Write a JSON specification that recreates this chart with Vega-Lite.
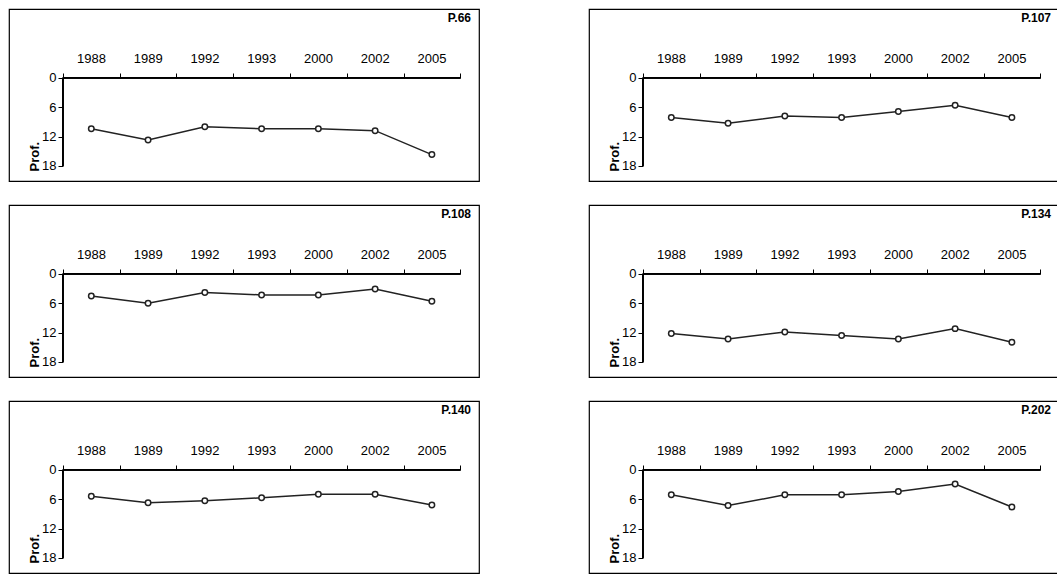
{
  "$schema": "https://vega.github.io/schema/vega-lite/v6.json",
  "padding": {"left": 8, "top": 8, "right": 0, "bottom": 0},
  "background": "white",
  "config": {
    "font": "Liberation Sans",
    "view": {"stroke": "black", "strokeWidth": 1.2},
    "header": {"labels": false, "title": null, "labelFontSize": 0, "labelPadding": 0},
    "headerFacet": {"labels": false, "title": null, "labelFontSize": 0, "labelPadding": 0},
    "axis": {"labelFont": "Liberation Sans", "labelFontSize": 13, "labelFontWeight": "normal", "labelColor": "black", "tickColor": "black", "domain": false, "grid": false, "tickSize": 5}
  },
  "data": {"values": [
    {"p": "P.66", "i": 0, "v": 10.4}, {"p": "P.66", "i": 1, "v": 12.7}, {"p": "P.66", "i": 2, "v": 10.0}, {"p": "P.66", "i": 3, "v": 10.4}, {"p": "P.66", "i": 4, "v": 10.4}, {"p": "P.66", "i": 5, "v": 10.8}, {"p": "P.66", "i": 6, "v": 15.7},
    {"p": "P.107", "i": 0, "v": 8.1}, {"p": "P.107", "i": 1, "v": 9.3}, {"p": "P.107", "i": 2, "v": 7.8}, {"p": "P.107", "i": 3, "v": 8.1}, {"p": "P.107", "i": 4, "v": 6.9}, {"p": "P.107", "i": 5, "v": 5.6}, {"p": "P.107", "i": 6, "v": 8.1},
    {"p": "P.108", "i": 0, "v": 4.5}, {"p": "P.108", "i": 1, "v": 6.0}, {"p": "P.108", "i": 2, "v": 3.8}, {"p": "P.108", "i": 3, "v": 4.3}, {"p": "P.108", "i": 4, "v": 4.3}, {"p": "P.108", "i": 5, "v": 3.1}, {"p": "P.108", "i": 6, "v": 5.6},
    {"p": "P.134", "i": 0, "v": 12.2}, {"p": "P.134", "i": 1, "v": 13.3}, {"p": "P.134", "i": 2, "v": 11.9}, {"p": "P.134", "i": 3, "v": 12.6}, {"p": "P.134", "i": 4, "v": 13.3}, {"p": "P.134", "i": 5, "v": 11.2}, {"p": "P.134", "i": 6, "v": 14.0},
    {"p": "P.140", "i": 0, "v": 5.4}, {"p": "P.140", "i": 1, "v": 6.7}, {"p": "P.140", "i": 2, "v": 6.3}, {"p": "P.140", "i": 3, "v": 5.7}, {"p": "P.140", "i": 4, "v": 5.0}, {"p": "P.140", "i": 5, "v": 5.0}, {"p": "P.140", "i": 6, "v": 7.2},
    {"p": "P.202", "i": 0, "v": 5.1}, {"p": "P.202", "i": 1, "v": 7.3}, {"p": "P.202", "i": 2, "v": 5.1}, {"p": "P.202", "i": 3, "v": 5.1}, {"p": "P.202", "i": 4, "v": 4.4}, {"p": "P.202", "i": 5, "v": 2.9}, {"p": "P.202", "i": 6, "v": 7.6}
  ]},
  "facet": {"field": "p", "type": "nominal", "title": null, "header": {"title": null, "labels": false}, "sort": ["P.66", "P.107", "P.108", "P.134", "P.140", "P.202"]},
  "columns": 2,
  "spacing": {"column": 108, "row": 22},
  "resolve": {"axis": {"x": "independent", "y": "independent"}},
  "spec": {
    "width": 470,
    "height": 172,
    "layer": [
      {
        "mark": {"type": "rule", "color": "black", "strokeWidth": 1},
        "encoding": {
          "x": {"datum": -0.5, "type": "quantitative", "scale": {"domain": [-1.45, 6.83], "nice": false, "zero": false},
            "axis": {"orient": "top", "offset": -69, "values": [-0.5, 0.5, 1.5, 2.5, 3.5, 4.5, 5.5, 6.5], "labelOffset": 28, "labelAlign": "center", "labelPadding": 8, "title": null,
              "labelExpr": "['1988','1989','1992','1993','2000','2002','2005',''][round(datum.value + 0.5)]"}},
          "x2": {"datum": 6.5},
          "y": {"datum": 0, "type": "quantitative", "scale": {"domain": [-14.1, 21.1], "reverse": true, "nice": false, "zero": false},
            "axis": {"orient": "left", "offset": -54, "values": [0, 6, 12, 18], "title": "Prof.", "titleFontWeight": "bold", "titleFontSize": 13, "titleFont": "Liberation Sans", "titleY": 162, "titleAnchor": "start", "titleAngle": 270, "titlePadding": 0}}
        }
      },
      {
        "mark": {"type": "rule", "color": "black", "strokeWidth": 1},
        "encoding": {
          "x": {"datum": -0.5, "type": "quantitative"},
          "y": {"datum": 0, "type": "quantitative"},
          "y2": {"datum": 18}
        }
      },
      {
        "mark": {"type": "line", "color": "#222", "strokeWidth": 1.5, "point": {"filled": true, "fill": "white", "stroke": "#222", "strokeWidth": 1.5, "size": 30}},
        "encoding": {
          "x": {"field": "i", "type": "quantitative"},
          "y": {"field": "v", "type": "quantitative"}
        }
      },
      {
        "transform": [{"filter": "datum.i == 0"}],
        "mark": {"type": "text", "align": "right", "baseline": "middle", "fontWeight": "bold", "fontSize": 12, "dx": -8, "letterSpacing": 1.5},
        "encoding": {
          "x": {"datum": 6.83, "type": "quantitative"},
          "y": {"datum": -12.3, "type": "quantitative"},
          "text": {"field": "p"}
        }
      }
    ]
  }
}
